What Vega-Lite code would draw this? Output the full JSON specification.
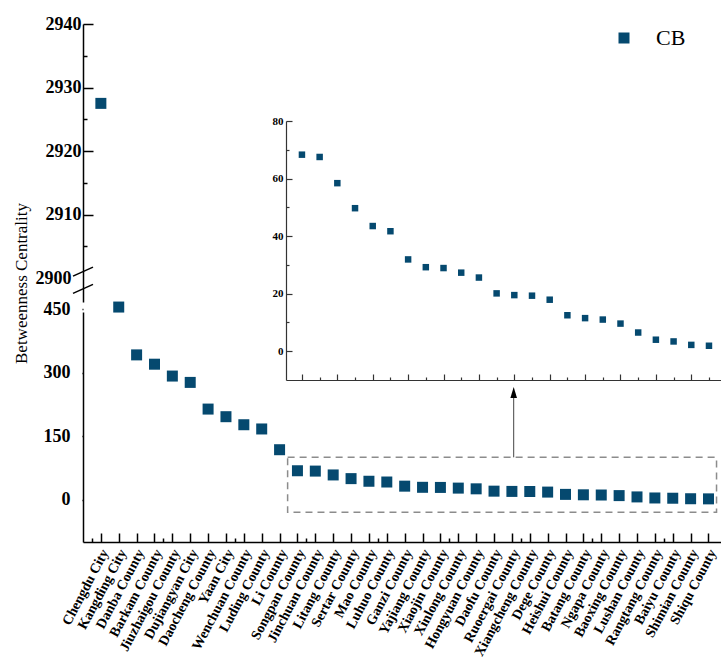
{
  "$schema": "https://vega.github.io/schema/vega-lite/v6.json",
  "width": 638,
  "height": 518,
  "autosize": {"type": "none"},
  "padding": {"left": 83, "top": 24, "right": 0, "bottom": 122},
  "background": "white",
  "config": {"view": {"stroke": null}, "font": "Liberation Serif"},
  "datasets": {
    "cb": [
      {"county": "Chengdu City", "cb": 2927.5, "series": "CB"},
      {"county": "Kangding City", "cb": 455, "series": "CB"},
      {"county": "Danba County", "cb": 342, "series": "CB"},
      {"county": "Barkam County", "cb": 320, "series": "CB"},
      {"county": "Jiuzhaigou County", "cb": 292, "series": "CB"},
      {"county": "Dujiangyan City", "cb": 277, "series": "CB"},
      {"county": "Daocheng County", "cb": 214, "series": "CB"},
      {"county": "Yaan City", "cb": 196, "series": "CB"},
      {"county": "Wenchuan County", "cb": 177, "series": "CB"},
      {"county": "Luding County", "cb": 167, "series": "CB"},
      {"county": "Li County", "cb": 118, "series": "CB"},
      {"county": "Songpan County", "cb": 68.3, "series": "CB"},
      {"county": "Jinchuan County", "cb": 67.5, "series": "CB"},
      {"county": "Litang County", "cb": 58.4, "series": "CB"},
      {"county": "Sertar County", "cb": 49.7, "series": "CB"},
      {"county": "Mao County", "cb": 43.5, "series": "CB"},
      {"county": "Luhuo County", "cb": 41.7, "series": "CB"},
      {"county": "Ganzi County", "cb": 31.9, "series": "CB"},
      {"county": "Yajiang County", "cb": 29.2, "series": "CB"},
      {"county": "Xiaojin County", "cb": 28.9, "series": "CB"},
      {"county": "Xinlong County", "cb": 27.3, "series": "CB"},
      {"county": "Hongyuan County", "cb": 25.6, "series": "CB"},
      {"county": "Daofu County", "cb": 20.1, "series": "CB"},
      {"county": "Ruoergai County", "cb": 19.5, "series": "CB"},
      {"county": "Xiangcheng County", "cb": 19.3, "series": "CB"},
      {"county": "Dege County", "cb": 17.9, "series": "CB"},
      {"county": "Heishui County", "cb": 12.5, "series": "CB"},
      {"county": "Batang County", "cb": 11.5, "series": "CB"},
      {"county": "Ngapa County", "cb": 11.0, "series": "CB"},
      {"county": "Baoxing County", "cb": 9.6, "series": "CB"},
      {"county": "Lushan County", "cb": 6.5, "series": "CB"},
      {"county": "Rangtang County", "cb": 4.0, "series": "CB"},
      {"county": "Baiyu County", "cb": 3.4, "series": "CB"},
      {"county": "Shimian County", "cb": 2.2, "series": "CB"},
      {"county": "Shiqu County", "cb": 1.9, "series": "CB"}
    ],
    "breaks": [{"xi": -1, "v": 2901}, {"xi": -1, "v": 498}],
    "box": [{"x1": 10.45, "x2": 34.45, "top": 100, "bottom": -30}],
    "arrow": [{"xi": 23.1, "from": 100, "to": 255, "head": 253}]
  },
  "layer": [
    {
      "data": {"name": "cb"},
      "mark": {"type": "point", "shape": "square", "filled": true, "size": 121, "opacity": 1},
      "encoding": {
        "x": {
          "field": "county", "type": "nominal", "sort": null,
          "scale": {"type": "point", "padding": 0.85, "align": 0.588},
          "axis": {
            "title": null, "labelAngle": -62, "labelAlign": "right", "labelBaseline": "middle",
            "labelFont": "Liberation Serif", "labelFontWeight": "bold", "labelFontSize": 14,
            "labelColor": "black", "labelOverlap": false, "labelPadding": 17, "labelOffset": 4,
            "tickSize": -9, "tickWidth": 1.5, "tickColor": "black",
            "domainColor": "black", "domainWidth": 1.5, "grid": false
          }
        },
        "y": {
          "field": "cb", "type": "quantitative",
          "scale": {"domain": [-100, 500, 2900, 2940], "range": [518, 264, 254, 0], "nice": false, "zero": false},
          "axis": {
            "title": "Betweenness Centrality", "titleFont": "Liberation Serif", "titleFontWeight": "normal",
            "titleFontSize": 17, "titleColor": "black", "titlePadding": 5,
            "values": [0, 75, 150, 225, 300, 375, 450, 2900, 2905, 2910, 2915, 2920, 2925, 2930, 2935, 2940],
            "format": "d",
            "labelExpr": "(datum.value < 1000 ? datum.value % 150 == 0 : datum.value % 10 == 0) ? datum.label : ''",
            "labelFont": "Liberation Serif", "labelFontWeight": "bold", "labelFontSize": 18, "labelColor": "black",
            "labelPadding": 12,
            "tickSize": {"condition": [{"test": "datum.value == 2900", "value": 0}, {"test": "datum.value < 1000 ? datum.value % 150 == 0 : datum.value % 10 == 0", "value": -10}], "value": -4},
            "tickWidth": 1.5, "tickColor": "black",
            "domainColor": "black", "domainWidth": 1.5, "domainDash": [230, 10, 600], "grid": false
          }
        },
        "color": {
          "field": "series", "type": "nominal",
          "scale": {"range": ["#05496f"]},
          "legend": {
            "orient": "none", "legendX": 530, "legendY": 3, "title": null,
            "symbolType": "square", "symbolSize": 121, "symbolStrokeWidth": 0,
            "labelFont": "Liberation Serif", "labelFontSize": 22, "labelColor": "black",
            "labelOffset": 21, "padding": 0
          }
        }
      }
    },
    {
      "layer": [
        {
          "data": {"name": "box"},
          "mark": {"type": "rect", "filled": false, "fill": null, "stroke": "#8c8c8c", "strokeWidth": 1.5, "strokeDash": [7, 5]},
          "encoding": {
            "x": {
              "field": "x1", "type": "quantitative",
              "scale": {"domain": [-1, 34.7], "nice": false, "zero": false},
              "axis": {
                "orient": "bottom", "title": null, "labels": false, "domain": false, "grid": false,
                "values": [-0.5, 0.5, 1.5, 2.5, 3.5, 4.5, 5.5, 6.5, 7.5, 8.5, 9.5, 10.5, 11.5, 12.5, 13.5, 14.5, 15.5, 16.5, 17.5, 18.5, 19.5, 20.5, 21.5, 22.5, 23.5, 24.5, 25.5, 26.5, 27.5, 28.5, 29.5, 30.5, 31.5, 32.5, 33.5, 34.5],
                "tickSize": -4, "tickWidth": 1.5, "tickColor": "black"
              }
            },
            "x2": {"field": "x2"},
            "y": {
              "field": "top", "type": "quantitative",
              "scale": {"domain": [-100, 500, 2900, 2940], "range": [518, 264, 254, 0], "nice": false, "zero": false},
              "axis": null
            },
            "y2": {"field": "bottom"}
          }
        },
        {
          "data": {"name": "arrow"},
          "mark": {"type": "rule", "color": "#444444", "strokeWidth": 1},
          "encoding": {
            "x": {"field": "xi", "type": "quantitative"},
            "y": {"field": "from", "type": "quantitative"},
            "y2": {"field": "to"}
          }
        },
        {
          "data": {"name": "arrow"},
          "mark": {"type": "point", "shape": "M0,-1L0.6,1L-0.6,1Z", "filled": true, "color": "black", "size": 121, "opacity": 1},
          "encoding": {
            "x": {"field": "xi", "type": "quantitative"},
            "y": {"field": "head", "type": "quantitative"}
          }
        },
        {
          "data": {"name": "breaks"},
          "mark": {"type": "point", "shape": "M-1,0.45L1,-0.45", "filled": false, "color": "black", "strokeWidth": 1.5, "size": 400, "opacity": 1},
          "encoding": {
            "x": {"field": "xi", "type": "quantitative"},
            "y": {"field": "v", "type": "quantitative"}
          }
        }
      ]
    },
    {
      "data": {"name": "cb"},
      "transform": [{"filter": "datum.cb < 100"}],
      "mark": {"type": "point", "shape": "square", "filled": true, "size": 42, "color": "#05496f", "opacity": 1},
      "encoding": {
        "x": {
          "field": "county", "type": "nominal", "sort": null,
          "scale": {"type": "point", "range": [203, 638], "padding": 0.79, "align": 0.57},
          "axis": {
            "orient": "bottom", "offset": -162, "title": null, "labels": false, "grid": false,
            "tickSize": {"condition": {"test": "round(datum.index * 23) % 2 == 0", "value": -6}, "value": -3},
            "tickColor": "#333333", "tickWidth": 1.2, "domainColor": "#333333", "domainWidth": 1.2
          }
        },
        "y": {
          "field": "cb", "type": "quantitative",
          "scale": {"domain": [-10, 80], "range": [356, 97], "nice": false, "zero": false},
          "axis": {
            "orient": "left", "offset": -203, "title": null, "grid": false,
            "values": [0, 10, 20, 30, 40, 50, 60, 70, 80],
            "labelExpr": "datum.value % 20 == 0 ? datum.label : ''",
            "labelFont": "Liberation Serif", "labelFontWeight": "bold", "labelFontSize": 11, "labelColor": "black",
            "labelPadding": 9,
            "tickSize": {"condition": {"test": "datum.value % 20 == 0", "value": -6}, "value": -3},
            "tickColor": "#333333", "tickWidth": 1.2, "domainColor": "#333333", "domainWidth": 1.2
          }
        }
      }
    }
  ],
  "resolve": {"scale": {"x": "independent", "y": "independent"}}
}
